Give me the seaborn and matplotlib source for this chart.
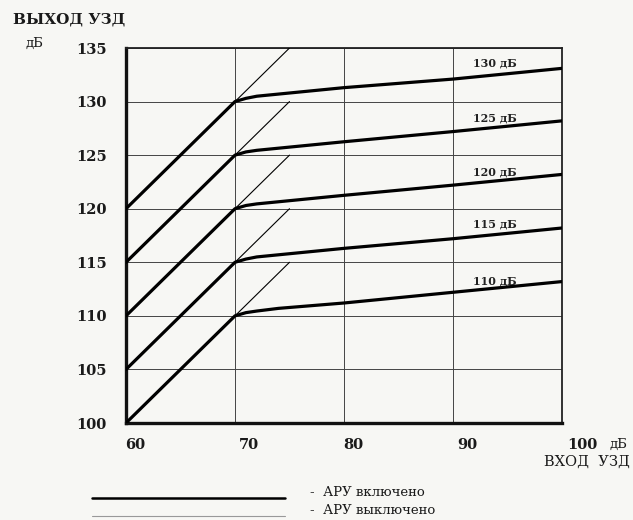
import numpy as np
import pandas as pd
import matplotlib
matplotlib.use("Agg")
import matplotlib.pyplot as plt
import matplotlib.transforms as mtransforms
import seaborn as sns

# ---- data ----
levels = ["110 дБ", "115 дБ", "120 дБ", "125 дБ", "130 дБ"]
x_on = [60, 70, 71, 72, 74, 80, 90, 100]
out_110 = [100, 110, 110.3, 110.45, 110.7, 111.2, 112.2, 113.2]
out_115 = [105, 115, 115.3, 115.5, 115.7, 116.3, 117.2, 118.2]
out_120 = [110, 120, 120.3, 120.45, 120.65, 121.25, 122.2, 123.2]
out_125 = [115, 125, 125.3, 125.45, 125.65, 126.25, 127.2, 128.2]
out_130 = [120, 130, 130.3, 130.5, 130.7, 131.3, 132.1, 133.1]
x_off = [60, 75]
off_110 = [100, 115]
off_115 = [105, 120]
off_120 = [110, 125]
off_125 = [115, 130]
off_130 = [120, 135]
label_x = [93.8, 93.8, 93.8, 93.8, 93.8]
label_y = [113.3, 118.6, 123.4, 128.5, 133.6]
xticks = [60, 70, 80, 90, 100]
yticks = [100, 105, 110, 115, 120, 125, 130, 135]

on_series = [out_110, out_115, out_120, out_125, out_130]
off_series = [off_110, off_115, off_120, off_125, off_130]
df_on = pd.DataFrame([(lv, x, y) for lv, ys in zip(levels, on_series) for x, y in zip(x_on, ys)],
                     columns=["level", "x", "y"])
df_off = pd.DataFrame([(lv, x, y) for lv, ys in zip(levels, off_series) for x, y in zip(x_off, ys)],
                      columns=["level", "x", "y"])

sns.set_theme(style="white")
plt.rcParams["font.family"] = ["DejaVu Serif", "DejaVu Sans"]

bg = "#f7f7f4"
fig = plt.figure(figsize=(6.33, 5.2), dpi=100, facecolor=bg)
ax = fig.add_axes([126/633, 1-423/520, (562-126)/633, (423-48)/520])
ax.set_facecolor(bg)

pal = {lv: "black" for lv in levels}
sns.lineplot(data=df_off, x="x", y="y", hue="level", units="level", estimator=None,
             palette=pal, linewidth=0.8, legend=False, ax=ax, zorder=3)
sns.lineplot(data=df_on, x="x", y="y", hue="level", units="level", estimator=None,
             palette=pal, linewidth=2.3, legend=False, ax=ax, zorder=4)

for lv, lx, ly in zip(levels, label_x, label_y):
    ax.text(lx, ly, lv, ha="center", va="center", fontsize=8, fontweight="bold", color="#222222")

ax.set_xlim(60, 100)
ax.set_ylim(100, 135)
ax.set_xticks(xticks)
ax.set_yticks(yticks)
ax.set_xticklabels([str(t) for t in xticks])
ax.set_yticklabels([str(t) for t in yticks])
ax.grid(True, color="#444444", linewidth=0.7)
ax.set_axisbelow(True)
ax.set_xlabel("")
ax.set_ylabel("")
ax.tick_params(axis="both", length=0, labelsize=10.5, colors="#1a1a1a")
ax.tick_params(axis="x", pad=11)
ax.tick_params(axis="y", pad=14)
for lab in ax.get_xticklabels() + ax.get_yticklabels():
    lab.set_fontweight("bold")
x_offsets = [6.5, 10, 7, 10, 14.5]
for lab, dx in zip(ax.get_xticklabels(), x_offsets):
    lab.set_transform(lab.get_transform() + mtransforms.ScaledTranslation(dx/72, 0, fig.dpi_scale_trans))

for side in ["left", "bottom"]:
    ax.spines[side].set_linewidth(2.4)
    ax.spines[side].set_color("#111111")
for side in ["top", "right"]:
    ax.spines[side].set_linewidth(1.3)
    ax.spines[side].set_color("#222222")

fig.text(13/633, 1-20/520, "ВЫХОД УЗД", ha="left", va="center", fontsize=11, fontweight="bold", color="#1a1a1a")
fig.text(34/633, 1-43/520, "дБ", ha="center", va="center", fontsize=9.5, color="#1a1a1a")
fig.text(618/633, 1-444/520, "дБ", ha="center", va="center", fontsize=9.5, color="#1a1a1a")
fig.text(630/633, 1-462/520, "ВХОД  УЗД", ha="right", va="center", fontsize=10.5, color="#1a1a1a")

# legend
fig.add_artist(plt.Line2D([92/633, 285/633], [1-498/520, 1-498/520], color="black", linewidth=1.8,
                          transform=fig.transFigure))
fig.add_artist(plt.Line2D([92/633, 285/633], [1-516/520, 1-516/520], color="#999999", linewidth=0.8,
                          transform=fig.transFigure))
fig.text(310/633, 1-493/520, "-  АРУ включено", ha="left", va="center", fontsize=9.5, color="#1a1a1a")
fig.text(310/633, 1-511/520, "-  АРУ выключено", ha="left", va="center", fontsize=9.5, color="#1a1a1a")

fig.savefig("out.png", dpi=100, facecolor=bg)
